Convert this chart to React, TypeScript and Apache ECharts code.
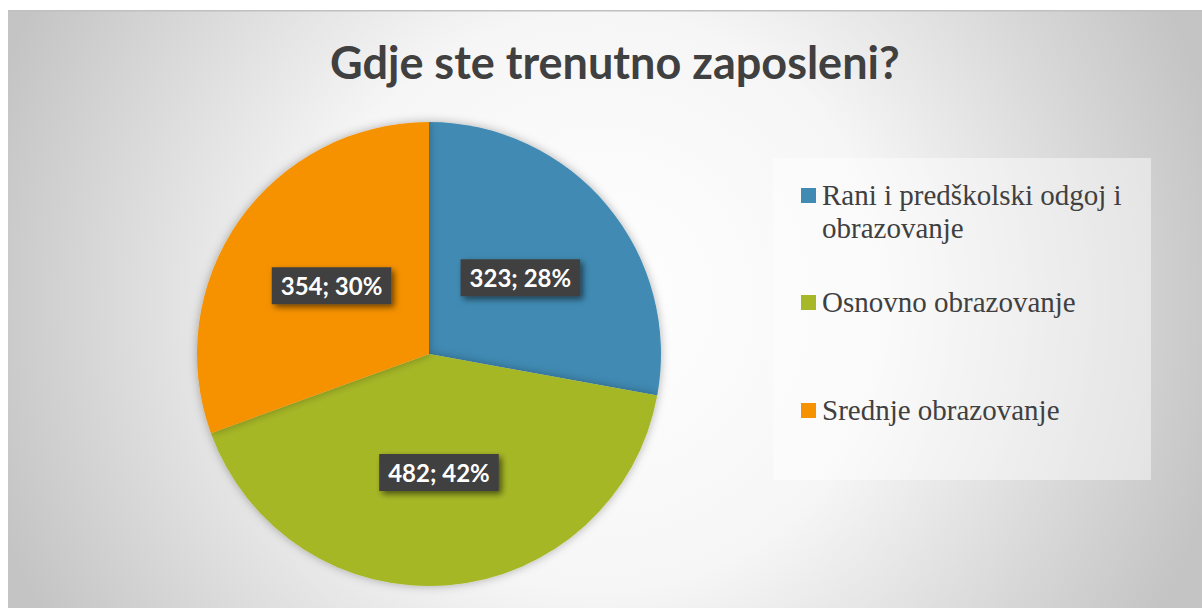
import React, { useEffect, useRef } from "react";
import * as echarts from "echarts";

const titleText = "Gdje ste trenutno zaposleni?";
const categories = [
  "Rani i predškolski odgoj i obrazovanje",
  "Osnovno obrazovanje",
  "Srednje obrazovanje",
];
const values = [323, 482, 354];
const colors = ["#418AB3", "#A6B727", "#F69200"];

function wrapText(text: string, font: string, maxWidth: number): string {
  const canvas = document.createElement("canvas");
  const ctx = canvas.getContext("2d");
  if (!ctx) return text;
  ctx.font = font;
  const words = text.split(" ");
  const lines: string[] = [];
  let cur = "";
  words.forEach((w) => {
    const test = cur ? cur + " " + w : w;
    if (cur && ctx.measureText(test).width > maxWidth) {
      lines.push(cur);
      cur = w;
    } else {
      cur = test;
    }
  });
  if (cur) lines.push(cur);
  return lines.join("\n");
}

export default function App() {
  const ref = useRef<HTMLDivElement>(null);
  useEffect(() => {
    if (!ref.current) return;
    const chart = echarts.init(ref.current, null, { renderer: "svg" });
    const W = 1194;
    const H = 598;
    const legendFont = "29px 'Liberation Serif'";
    const markerYs = [185.5, 292.5, 400.5];
    const legendEls: any[] = [];
    categories.forEach((name, i) => {
      legendEls.push({
        type: "rect",
        z: 5,
        silent: true,
        shape: { x: 793, y: markerYs[i] - 7.5, width: 15, height: 15 },
        style: { fill: colors[i] },
      });
      legendEls.push({
        type: "text",
        z: 5,
        silent: true,
        x: 814,
        y: markerYs[i] - 17,
        style: {
          text: wrapText(name, legendFont, 318),
          fill: "#404040",
          font: legendFont,
          lineHeight: 33,
          verticalAlign: "top",
          align: "left",
        },
      });
    });
    chart.setOption({
      animation: false,
      title: {
        text: titleText,
        left: 322,
        top: 24,
        padding: 0,
        textStyle: {
          fontFamily: "Lato",
          fontWeight: "bold",
          fontSize: 45,
          lineHeight: 56,
          color: "#404040",
        },
      },
      graphic: {
        elements: [
          {
            type: "rect",
            z: -10,
            silent: true,
            shape: { x: 0, y: 0, width: W, height: H },
            style: {
              fill: new echarts.graphic.RadialGradient(
                592,
                292,
                640,
                [
                  { offset: 0, color: "#ffffff" },
                  { offset: 0.45, color: "#f6f6f6" },
                  { offset: 1, color: "#c4c4c4" },
                ],
                true
              ),
            },
          },
          {
            type: "rect",
            z: -9,
            silent: true,
            shape: { x: 0, y: 0, width: W, height: 1.5 },
            style: { fill: "#c0c0c0" },
          },
          {
            type: "rect",
            z: 1,
            silent: true,
            shape: { x: 765, y: 148, width: 378, height: 322 },
            style: { fill: "rgba(255,255,255,0.45)" },
          },
          ...legendEls,
        ],
      },
      series: [
        {
          type: "pie",
          center: [421, 344],
          radius: 232,
          startAngle: 90,
          clockwise: true,
          silent: true,
          percentPrecision: 0,
          data: categories.map((n, i) => ({
            name: n,
            value: values[i],
            itemStyle: { color: colors[i] },
          })),
          itemStyle: {
            borderWidth: 0,
            shadowBlur: 10,
            shadowColor: "rgba(0,0,0,0.3)",
          },
          label: {
            show: true,
            position: "inside",
            formatter: "{c}; {d}%",
            color: "#ffffff",
            fontFamily: "Lato",
            fontWeight: "bold",
            fontSize: 24,
            backgroundColor: "#404040",
            padding: [7, 9, 6, 9],
            shadowColor: "rgba(0,0,0,0.55)",
            shadowBlur: 6,
            shadowOffsetX: 3,
            shadowOffsetY: 3,
          },
          labelLine: { show: false },
          emphasis: { disabled: true },
        },
      ],
    });
    return () => chart.dispose();
  }, []);
  return (
    <div
      ref={ref}
      style={{ position: "absolute", left: 8, top: 10, width: 1194, height: 598 }}
    />
  );
}
